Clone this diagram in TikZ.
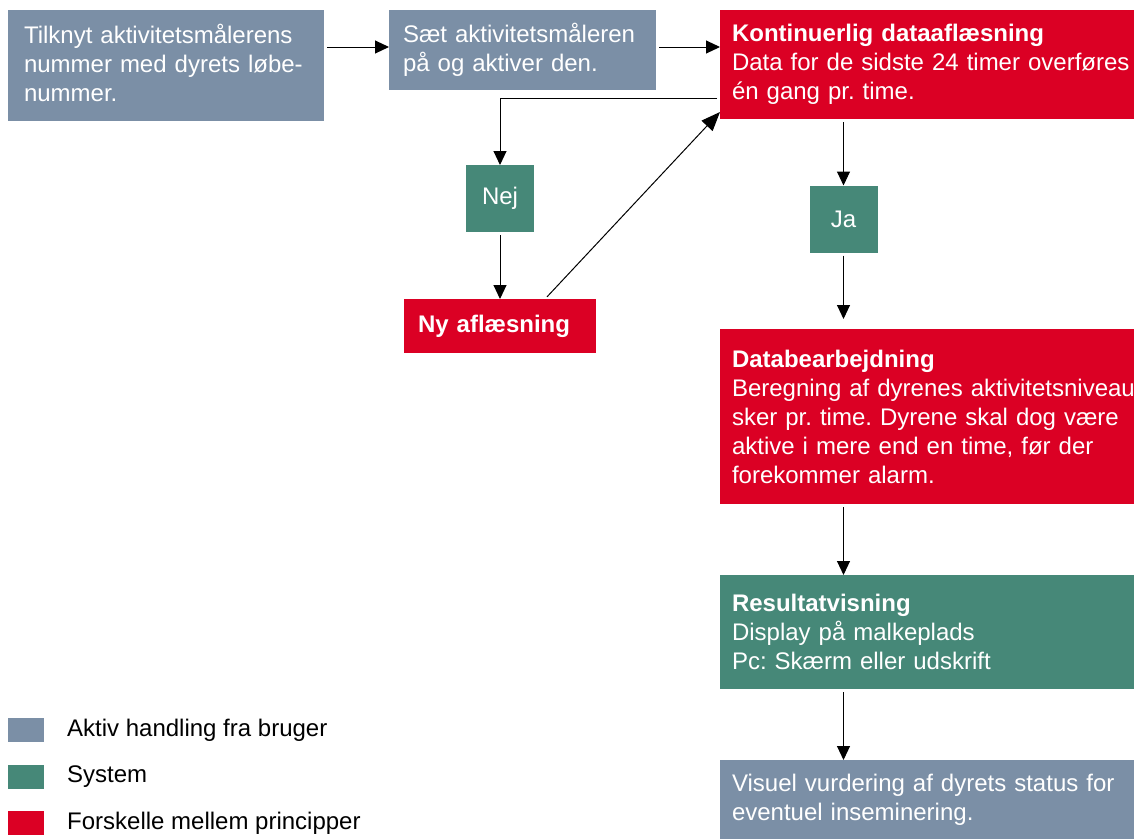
\documentclass[tikz,border=0pt]{standalone}
\usepackage{fontspec}
\setmainfont{Liberation Sans}
\usetikzlibrary{positioning,arrows.meta}

\definecolor{userblue}{RGB}{123,143,166}
\definecolor{sysgreen}{RGB}{70,136,120}
\definecolor{diffred}{RGB}{219,0,36}
\newcommand{\boxfont}{\fontsize{24}{29}\selectfont}
\frenchspacing

\begin{document}
\begin{tikzpicture}[x=1pt, y=-1pt,
	box/.style={anchor=north west, outer sep=0pt, align=left, text=white, font=\boxfont},
	answer/.style={fill=sysgreen, text=white, font=\boxfont, minimum width=68pt, minimum height=67pt, outer sep=0pt},
	flow/.style={-{Triangle[length=14pt,width=13pt]}, line width=1pt, shorten <=3pt},
	bigtip/.style={-{Triangle[length=19pt,width=15pt]}}
]
	\path [use as bounding box, clip] (0,0) rectangle (1134,838);

	% top row
	\node [box, fill=userblue, minimum width=316pt, minimum height=111pt, inner xsep=16pt, text width=284pt] (tilknyt) at (8,10) {Tilknyt aktivitetsmålerens\\nummer med dyrets løbe-\\nummer.\vspace{6pt}};
	\node [box, fill=userblue, minimum width=267pt, minimum height=80pt, inner xsep=14pt, text width=239pt] (saet) at (389,10) {Sæt aktivitetsmåleren\\på og aktiver den.};
	\node [box, fill=diffred, minimum width=460pt, minimum height=109pt, inner xsep=12pt, text width=436pt] (kontinuerlig) at (720,10) {\textbf{Kontinuerlig dataaflæsning}\\Data for de sidste 24 timer overføres\\én gang pr. time.};

	% loop back
	\node [answer] (nej) at (500,198.5) {Nej};
	\node [box, fill=diffred, minimum width=192pt, minimum height=54pt, inner xsep=14pt, text width=164pt] (nyaf) at (404,299) {\textbf{Ny aflæsning}};

	% right column
	\node [answer] (ja) at (843.5,219) {Ja};
	\node [box, fill=diffred, minimum width=460pt, minimum height=175pt, inner xsep=12pt, text width=436pt] (databe) at (720,329) {\textbf{Databearbejdning}\\Beregning af dyrenes aktivitetsniveau\\sker pr. time. Dyrene skal dog være\\aktive i mere end en time, før der\\forekommer alarm.};
	\node [box, fill=sysgreen, minimum width=460pt, minimum height=114pt, inner xsep=12pt, text width=436pt] (result) at (720,575) {\textbf{Resultatvisning}\\Display på malkeplads\\Pc: Skærm eller udskrift};
	\node [box, fill=userblue, minimum width=460pt, minimum height=80pt, inner xsep=12pt, text width=436pt] (visuel) at (720,760) {Visuel vurdering af dyrets status for\\eventuel inseminering.};

	% legend
	\foreach \n/\col/\lbl in {1/userblue/Aktiv handling fra bruger, 2/sysgreen/System, 3/diffred/Forskelle mellem principper}{%
		\node [fill=\col, minimum width=36pt, minimum height=24pt, inner sep=0pt, outer sep=0pt] (leg\n) at (26,{730+(\n-1)*46.5}) {};
		\node [right=23pt of leg\n, inner sep=0pt, font=\boxfont] (legtext\n) {\lbl};
	}

	% connectors
	\coordinate (toprow) at (0,47);
	\draw [flow] (tilknyt.east |- toprow) -- (saet.west |- toprow);
	\draw [flow] (saet.east |- toprow) -- (kontinuerlig.west |- toprow);
	\draw [flow] ([yshift=-33.5pt]kontinuerlig.west) -| (nej);
	\draw [flow] (nej) -- (nyaf);
	\draw [flow, bigtip] ([xshift=45pt]nyaf.north) -- ([yshift=7pt]kontinuerlig.south west);
	\draw [flow] (kontinuerlig.south -| ja) -- (ja);
	\draw [flow, shorten >=10pt] (ja) -- (ja |- databe.north);
	\draw [flow] (ja |- databe.south) -- (ja |- result.north);
	\draw [flow] (ja |- result.south) -- (ja |- visuel.north);
\end{tikzpicture}
\end{document}
